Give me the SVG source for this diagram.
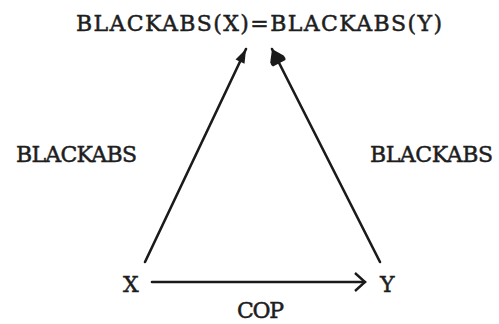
<svg xmlns="http://www.w3.org/2000/svg" width="499" height="324" viewBox="0 0 499 324">
  <defs>
    <style>
      .t { font-family: "DejaVu Serif", "Liberation Serif", serif; font-size: 22px; font-weight: normal; fill: #1e1e1e; stroke: #1e1e1e; stroke-width: 0.5; }
      .ln { stroke: #1a1a1a; stroke-width: 2.6; fill: none; stroke-linecap: round; }
    </style>
    <marker id="headL" markerUnits="userSpaceOnUse" viewBox="-1 -7 17 14" markerWidth="17" markerHeight="14" refX="14" refY="0" orient="auto">
      <path d="M0,-5 L14,0 L0,5 Z" fill="#1a1a1a"/>
    </marker>
    <marker id="headR" markerUnits="userSpaceOnUse" viewBox="-1 -10 19 20" markerWidth="19" markerHeight="20" refX="16" refY="0" orient="auto">
      <path d="M0,-7 Q2,-8.5 5,-7.5 L16,0 L5,7.5 Q2,8.5 0,7 Z" fill="#1a1a1a"/>
    </marker>
    <marker id="chev" markerUnits="userSpaceOnUse" viewBox="-12 -11 14 22" markerWidth="14" markerHeight="22" refX="0" refY="0" orient="auto">
      <path d="M-10,-9 L0,0 L-10,9" fill="none" stroke="#1a1a1a" stroke-width="2.4" stroke-linejoin="miter"/>
    </marker>
  </defs>
  <rect width="499" height="324" fill="#ffffff"/>

  <g id="node-equation">
    <text class="t" x="76" y="31" textLength="366" lengthAdjust="spacing">BLACKABS(X)=BLACKABS(Y)</text>
  </g>
  <g id="node-x">
    <text class="t" x="123" y="292">X</text>
  </g>
  <g id="node-y">
    <text class="t" x="380" y="292">Y</text>
  </g>

  <g id="connectors">
    <path class="ln" d="M145,262 L246,49" marker-end="url(#headL)"/>
    <path class="ln" d="M380,262 L272,49" marker-end="url(#headR)"/>
    <path class="ln" d="M152,282 L365,282" marker-end="url(#chev)"/>
    <text class="t" x="16" y="162" textLength="121" lengthAdjust="spacing">BLACKABS</text>
    <text class="t" x="370" y="162" textLength="123" lengthAdjust="spacing">BLACKABS</text>
    <text class="t" x="237" y="318" textLength="47" lengthAdjust="spacing">COP</text>
  </g>
</svg>
